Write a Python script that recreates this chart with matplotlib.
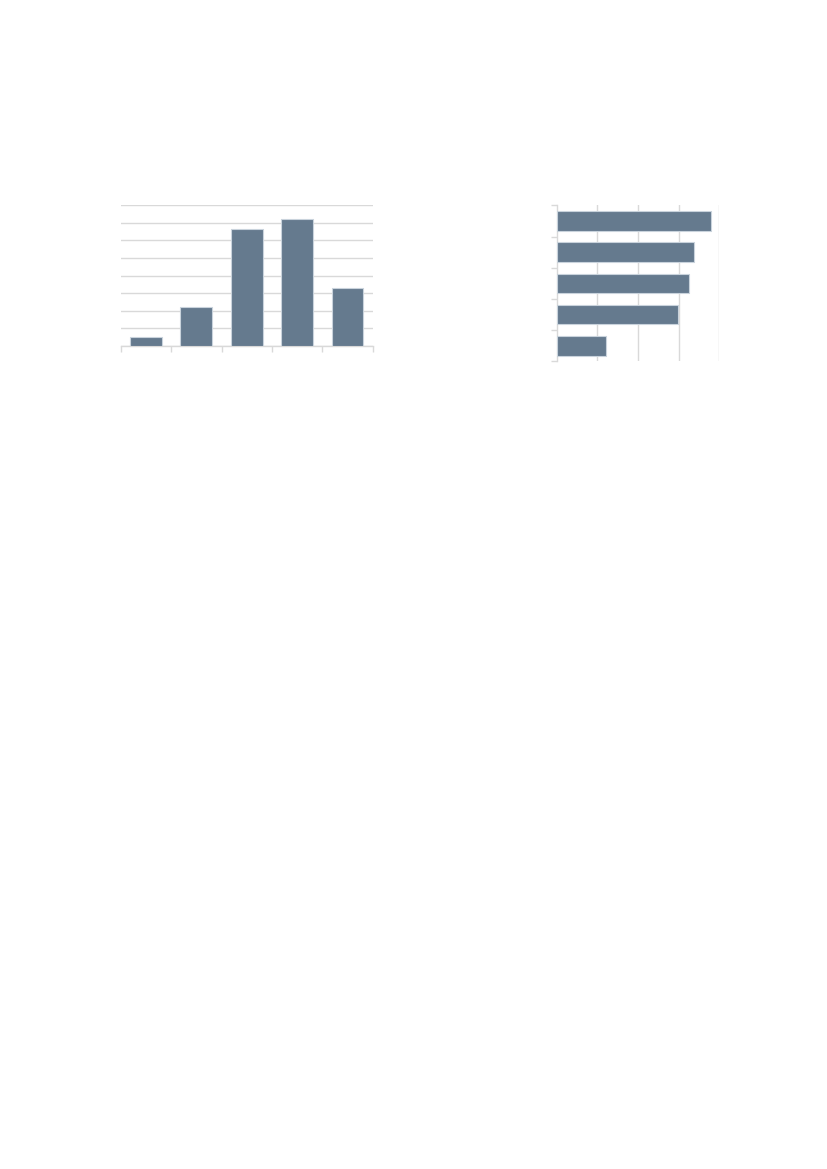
import numpy as np
import matplotlib
matplotlib.use("Agg")
import matplotlib.pyplot as plt

# data (no labels in the reference)
col_values = [0.53, 2.2, 6.65, 7.2, 3.31]
bar_values = [3.79, 3.38, 3.26, 2.98, 1.21]

bar_color = "#657a8e"
edge_color = "#c9d3dc"
grid_color = "#d9d9d9"

fig = plt.figure(figsize=(8.27, 11.69), dpi=100)

# left: column chart
ax1 = fig.add_axes([0.146, 0.704, 0.3047, 0.1204])
x = np.arange(len(col_values))
ax1.bar(x, col_values, width=0.63, color=bar_color, edgecolor=edge_color, linewidth=0.8, zorder=3)
ax1.set_xlim(-0.5, len(col_values) - 0.5)
ax1.set_ylim(0, 8)
ax1.set_yticks(np.arange(0, 9))
ax1.yaxis.grid(True, color=grid_color, linewidth=1.0, zorder=0)
ax1.set_xticks(np.arange(-0.5, len(col_values)))
ax1.tick_params(axis="x", direction="out", length=4, color=grid_color, width=1, labelbottom=False)
ax1.tick_params(axis="y", length=0, labelleft=False)
for s in ["top", "right", "left"]:
    ax1.spines[s].set_visible(False)
ax1.spines["bottom"].set_color(grid_color)
ax1.spines["bottom"].set_linewidth(1.0)

# right: horizontal bar chart
ax2 = fig.add_axes([0.6732, 0.6909, 0.1966, 0.1334])
y = np.arange(len(bar_values))
ax2.barh(y, bar_values, height=0.63, color=bar_color, edgecolor=edge_color, linewidth=0.8, zorder=3)
ax2.set_ylim(len(bar_values) - 0.5, -0.5)
ax2.set_xlim(0, 4)
ax2.set_xticks([1, 2, 3, 4])
ax2.xaxis.grid(True, color=grid_color, linewidth=1.0, zorder=0)
ax2.set_yticks(np.arange(-0.5, len(bar_values)))
ax2.tick_params(axis="y", direction="out", length=4, color=grid_color, width=1, labelleft=False)
ax2.tick_params(axis="x", length=0, labelbottom=False)
for s in ["top", "right", "bottom"]:
    ax2.spines[s].set_visible(False)
ax2.spines["left"].set_color(grid_color)
ax2.spines["left"].set_linewidth(1.0)

plt.savefig("out.png", dpi=100)
